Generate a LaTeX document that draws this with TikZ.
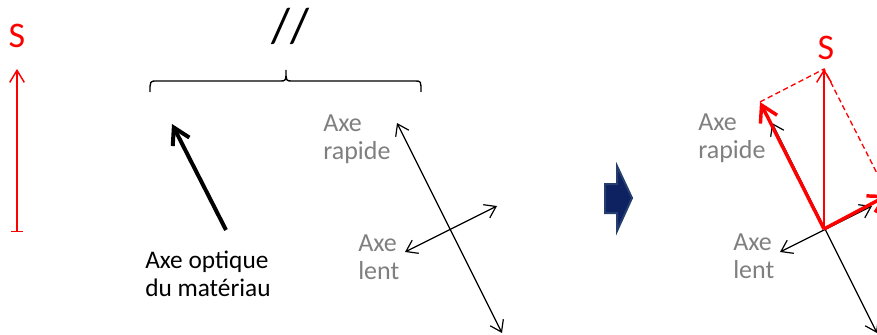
\documentclass[tikz,border=0pt]{standalone}
\usepackage{fontspec}
\setmainfont{Carlito}
\usetikzlibrary{arrows.meta}
\definecolor{sred}{RGB}{255,0,0}
\definecolor{lblgray}{RGB}{127,127,127}
\definecolor{navyfill}{RGB}{14,34,98}
\definecolor{navyline}{RGB}{36,62,110}
\begin{document}
\begin{tikzpicture}[x=0.75pt,y=-0.75pt,
  thintip/.tip={Straight Barb[length=8pt,width=11pt]},
  thicktip/.tip={Straight Barb[length=12pt,width=14pt]},
  thinaxis/.style={line width=0.9pt,thintip-thintip},
  thickarrow/.style={line width=3pt,-thicktip},
  redthick/.style={sred,line width=2.6pt,-thicktip},
  redthin/.style={sred,line width=1.1pt,-{Straight Barb[length=9pt,width=11pt]}},
  reddash/.style={sred,line width=1pt,dash pattern=on 4pt off 2.5pt},
  slabel/.style={text=sred,font=\fontsize{27}{30}\selectfont,inner sep=0pt,anchor=base},
  glabel/.style={text=lblgray,font=\fontsize{19.5}{20.5}\selectfont,inner sep=0pt,align=left,anchor=base west},
  blabel/.style={text=black,font=\fontsize{19}{20.5}\selectfont,inner sep=0pt,align=left,anchor=base west},
  bigarrow/.style={fill=navyfill,draw=navyline,line width=1.5pt}
]
\useasboundingbox (0,0) rectangle (877,335);
\clip (0,0) rectangle (877,335);

% left S arrow
\node[slabel] (s1) at (17,48) {S};
\coordinate (s1bot) at (17,232);
\coordinate (s1top) at (17,69);
\draw[sred,line width=1.1pt,{Bar[width=9pt]}-{Straight Barb[length=9pt,width=11pt]}] (s1bot) -- (s1top);

% slashes and brace
\node[inner sep=0pt,anchor=base,font=\fontsize{37}{37}\selectfont] (par) at (291,43) {//};
\draw[line width=1pt] (150,92) .. controls (150,81) .. (157,81) -- (280,81)
  .. controls (286,81) .. (286,70) .. controls (286,81) .. (292,81) -- (415,81)
  .. controls (421,81) .. (421,92);

% optical axis
\coordinate (oatail) at (226,230);
\coordinate (oatip) at (172,124);
\draw[thickarrow] (oatail) -- (oatip);
\node[blabel] (oalbl) at (145,296) {Axe optique\\du matériau};

% middle axes
\coordinate (rA) at (397,123);
\coordinate (rB) at (502,333);
\coordinate (lA) at (405,252);
\coordinate (lB) at (497,206);
\draw[thinaxis] (rA) -- (rB);
\draw[thinaxis] (lA) -- (lB);
\node[glabel] (rap1) at (323,159) {Axe\\rapide};
\node[glabel] (lent1) at (358,279) {Axe\\lent};

% big arrow
\draw[bigarrow] (605,184) -- (617,184) -- (617,166) -- (632,198) -- (617,231) -- (617,213) -- (605,213) -- cycle;

% right axes
\coordinate (O) at (824,229);
\coordinate (rA2) at (772,123);
\coordinate (rB2) at (877,333);
\coordinate (lA2) at (780,252);
\coordinate (lB2) at (872,206);
\draw[thinaxis] (rA2) -- (rB2);
\draw[thinaxis] (lA2) -- (lB2);
\node[glabel] (rap2) at (698,158) {Axe\\rapide};
\node[glabel] (lent2) at (733,278) {Axe\\lent};

% right S decomposition
\node[slabel] (s2) at (826,60) {S};
\coordinate (Stip) at (824,69);
\coordinate (Rtip) at (760,102);
\coordinate (Ltip) at (888,195);
\draw[reddash] (Rtip) -- (Stip) -- (Ltip);
\draw[redthin] (O) -- (Stip);
\draw[redthick] (O) -- (Rtip);
\draw[redthick] (O) -- (Ltip);
\end{tikzpicture}
\end{document}
